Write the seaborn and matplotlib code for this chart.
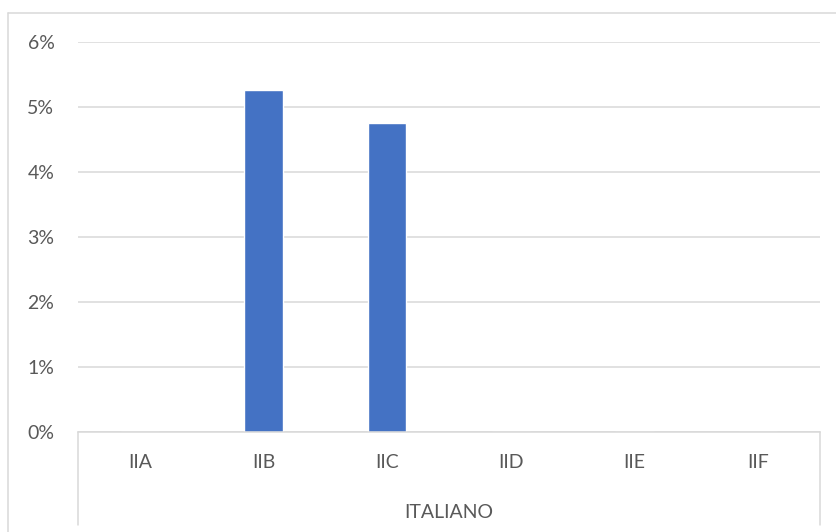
import seaborn as sns
import matplotlib.pyplot as plt
from matplotlib.lines import Line2D
from matplotlib.ticker import PercentFormatter
import matplotlib.transforms as mtransforms
import pandas as pd

# datos del grafico
clases = ["IIA", "IIB", "IIC", "IID", "IIE", "IIF"]
valores = [0.0, 0.0526, 0.0476, 0.0, 0.0, 0.0]
materia = "ITALIANO"

sns.set_theme(style="white")
plt.rcParams['font.family'] = ['Lato', 'DejaVu Sans']
gris = "#595959"
linea = "#d9d9d9"

df = pd.DataFrame({"clase": clases, "valor": valores})

fig = plt.figure(figsize=(8.37, 5.32), dpi=100)
ax = fig.add_axes([78/837, 1-432/532, (820-78)/837, (432-42)/532])

sns.barplot(data=df, x="clase", y="valor", color="#4472C4", saturation=1,
            width=0.31, ax=ax)

ax.set_ylim(0, 0.06)
ax.set_xlim(-0.5, 5.5)
ax.set_yticks([0, 0.01, 0.02, 0.03, 0.04, 0.05, 0.06])
ax.yaxis.set_major_formatter(PercentFormatter(1.0, decimals=0))
ax.grid(axis="y", color=linea, linewidth=1.1)
ax.set_axisbelow(True)
ax.set_xlabel("")
ax.set_ylabel("")
for s in ["top", "right", "left"]:
    ax.spines[s].set_visible(False)
ax.spines["bottom"].set_color(linea)
ax.spines["bottom"].set_linewidth(1.1)
ax.tick_params(axis="y", length=0, pad=17, labelsize=14, labelcolor=gris)
ax.tick_params(axis="x", length=0, pad=16, labelsize=14, labelcolor=gris)

# lineas del eje de categorias multinivel
trans = mtransforms.blended_transform_factory(ax.transAxes, fig.transFigure)
for xx in [0, 1]:
    ax.add_line(Line2D([xx, xx], [1-432/532, 1-525/532], transform=trans,
                       color=linea, linewidth=1.1, clip_on=False))
ax.text(0.5, 1-512/532, materia, transform=trans, ha="center", va="center",
        fontsize=14, color=gris)

# borde exterior del grafico
fig.add_artist(Line2D([8/837, 1], [1-13/532, 1-13/532], transform=fig.transFigure,
                      color=linea, linewidth=1.1))
fig.add_artist(Line2D([8/837, 8/837], [1-13/532, 0], transform=fig.transFigure,
                      color=linea, linewidth=1.1))

plt.savefig("out.png", dpi=100)
